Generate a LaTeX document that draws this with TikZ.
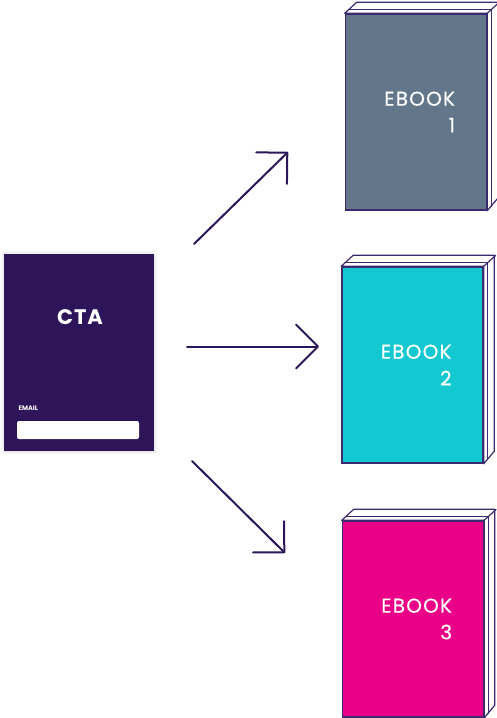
\documentclass[tikz,border=0pt]{standalone}
\usepackage{fontspec}
\setmainfont{Poppins}
\newfontfamily\widefont[LetterSpace=6,FakeBold=0.4]{Poppins}
\newfontfamily\ctafont[LetterSpace=4]{Poppins}
\usetikzlibrary{calc,arrows.meta,positioning,shadows.blur}
\definecolor{ctac}{HTML}{2E155A}
\definecolor{linec}{HTML}{3B2A70}
\definecolor{arrc}{HTML}{2B1659}
\definecolor{bookA}{HTML}{627789}
\definecolor{bookB}{HTML}{14C8D2}
\definecolor{bookC}{HTML}{EA0088}
\tikzset{
  ar/.style={-{Straight Barb[length=22pt,width=44pt,line join=round,line cap=round]},line width=2pt,arrc,line cap=round},
  cover/.style={draw=linec,line width=1.5pt,minimum width=141pt,minimum height=196pt,inner sep=0pt},
  btext/.style={text=white,align=right,inner sep=0pt,font=\widefont\fontsize{20}{26.7}\selectfont},
  page/.style={draw=linec,line width=1.2pt,fill=white,line join=round}
}
\begin{document}
\begin{tikzpicture}[x=1pt,y=-1pt]
\useasboundingbox (0,0) rectangle (496,718);
% call to action card
\node[fill=ctac,minimum width=150pt,minimum height=197pt,inner sep=0pt,
  blur shadow={shadow xshift=0pt,shadow yshift=0pt,shadow blur radius=4pt,shadow opacity=18}] (cta) at (79,352.5) {};
\node[text=white,inner sep=0pt,font=\ctafont\fontsize{21}{24}\bfseries] (ctat) at (80,317.5) {CTA};
\node[text=white,inner sep=0pt,anchor=base west,font=\fontsize{6.5}{7}\bfseries] (email) at (18.5,410.5) {EMAIL};
\node[fill=white,rounded corners=2pt,minimum width=122pt,minimum height=18pt,inner sep=0pt] (field) at (78,430) {};
% ebooks
\foreach \n/\x/\y/\c in {1/416/112/bookA,2/412.5/365/bookB,3/413/619/bookC}{
 \node[cover,fill=\c] (book\n) at (\x,\y) {};
 \draw[page] (book\n.north west) -- ++(12,-11) -- ++(141,0) -- ++(0,196) -- (book\n.south east) -- (book\n.north east) -- cycle;
 \draw[linec,line width=1.2pt] (book\n.north east) -- ++(12,-11);
 \draw[linec,line width=1pt] ($(book\n.north west)+(4,-4)$) -- ($(book\n.north east)+(4,-4)$) -- ($(book\n.south east)+(4,-4)$);
 \node[btext,anchor=east] (label\n) at ([xshift=-32pt]book\n.east) {EBOOK\\\n};
}
% arrows
\coordinate (a1s) at (194,244);
\coordinate (a1e) at (288,152);
\coordinate (a2s) at (187,346.5);
\coordinate (a2e) at (319,346.5);
\coordinate (a3s) at (192,461);
\coordinate (a3e) at (285,553);
\draw[ar] (a1s) -- (a1e);
\draw[ar] (a2s) -- (a2e);
\draw[ar] (a3s) -- (a3e);
\end{tikzpicture}
\end{document}
